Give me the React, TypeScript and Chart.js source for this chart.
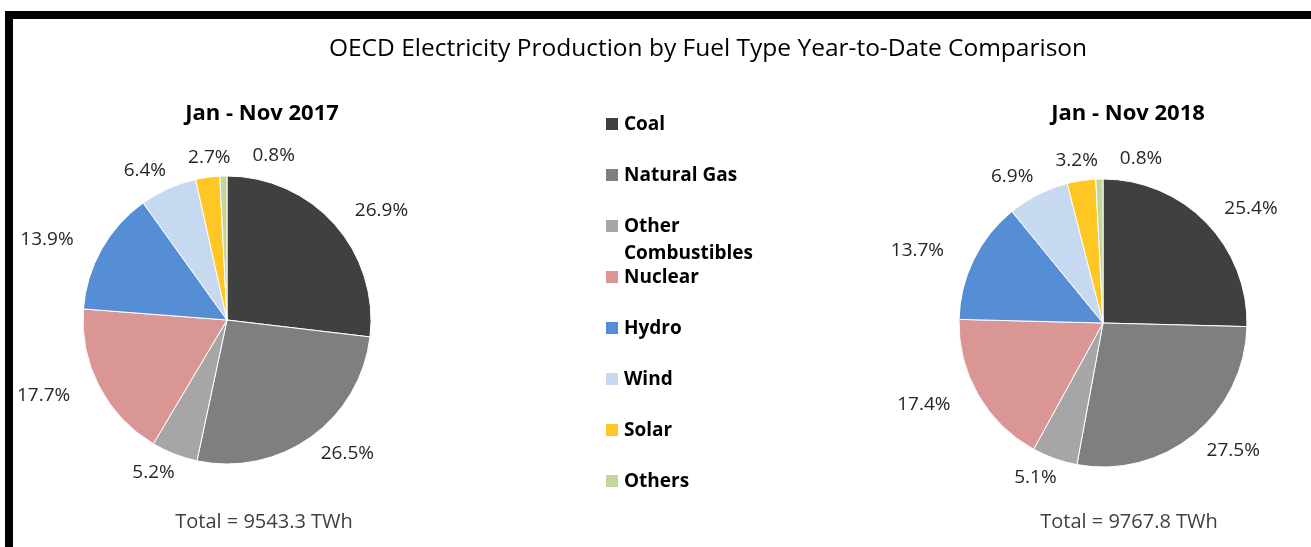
import React, { useEffect, useRef } from "react";
import { Chart, registerables } from "chart.js";

Chart.register(...registerables);

const categories = [
  "Coal",
  "Natural Gas",
  "Other Combustibles",
  "Nuclear",
  "Hydro",
  "Wind",
  "Solar",
  "Others",
];
const values2017 = [26.9, 26.5, 5.2, 17.7, 13.9, 6.4, 2.7, 0.8];
const values2018 = [25.4, 27.5, 5.1, 17.4, 13.7, 6.9, 3.2, 0.8];
const periodTitles = ["Jan - Nov 2017", "Jan - Nov 2018"];
const totals = ["Total = 9543.3 TWh", "Total = 9767.8 TWh"];
const mainTitle = "OECD Electricity Production by Fuel Type Year-to-Date Comparison";

const colors = [
  "#404040",
  "#7f7f7f",
  "#a6a6a6",
  "#d99694",
  "#558ed5",
  "#c6d9f1",
  "#ffc724",
  "#c3d69b",
];

const FONT = "'Open Sans', 'Noto Sans', sans-serif";

const outsideLabels = {
  id: "outsideLabels",
  afterDatasetsDraw(chart: any) {
    const ctx = chart.ctx;
    const meta = chart.getDatasetMeta(0);
    const data = chart.data.datasets[0].data as number[];
    ctx.save();
    ctx.font = `19px ${FONT}`;
    ctx.fillStyle = "#262626";
    ctx.textAlign = "center";
    ctx.textBaseline = "middle";
    const boxes: { cx: number; cy: number; w: number; h: number; t: string }[] = [];
    meta.data.forEach((arc: any, i: number) => {
      const p = arc.getProps(["x", "y", "startAngle", "endAngle", "outerRadius"], true);
      const mid = (p.startAngle + p.endAngle) / 2;
      const dx = Math.cos(mid);
      const dy = Math.sin(mid);
      const t = data[i].toFixed(1) + "%";
      const w = ctx.measureText(t).width;
      const h = 16;
      const ax = p.x + dx * (p.outerRadius + 36);
      const ay = p.y + dy * (p.outerRadius + 12);
      let cx = ax + dx * w / 2;
      const cy = ay + dy * h / 2;
      for (const b of boxes) {
        const overlapX = Math.abs(cx - b.cx) < (w + b.w) / 2 + 20;
        const overlapY = Math.abs(cy - b.cy) < (h + b.h) / 2;
        if (overlapX && overlapY) {
          if (cx >= b.cx) cx = b.cx + b.w / 2 + 22 + w / 2;
          else cx = b.cx - b.w / 2 - 22 - w / 2;
        }
      }
      boxes.push({ cx, cy, w, h, t });
    });
    boxes.forEach((b) => ctx.fillText(b.t, b.cx, b.cy));
    ctx.restore();
  },
};

function PieChart(props: {
  values: number[];
  left: number;
  padding: { left: number; right: number; top: number; bottom: number };
}) {
  const ref = useRef<HTMLCanvasElement | null>(null);
  useEffect(() => {
    if (!ref.current) return;
    const chart = new Chart(ref.current, {
      type: "pie",
      data: {
        labels: categories,
        datasets: [
          {
            data: props.values,
            backgroundColor: colors,
            borderColor: "#ffffff",
            borderWidth: 1,
          },
        ],
      },
      options: {
        responsive: false,
        animation: false,
        layout: { padding: props.padding },
        plugins: {
          legend: { display: false },
          tooltip: { enabled: false },
          title: { display: false },
        },
      },
      plugins: [outsideLabels],
    });
    return () => chart.destroy();
  }, []);
  return (
    <canvas
      ref={ref}
      width={655}
      height={547}
      style={{ position: "absolute", left: props.left, top: 0, width: 655, height: 547 }}
    />
  );
}

export default function App() {
  const textBase: React.CSSProperties = {
    position: "absolute",
    fontFamily: FONT,
    whiteSpace: "nowrap",
    transform: "translate(-50%, -50%)",
  };
  return (
    <div
      style={{
        position: "fixed",
        left: 0,
        top: 0,
        width: 1311,
        height: 547,
        background: "#ffffff",
        overflow: "hidden",
      }}
    >
      <div style={{ position: "absolute", left: 5, top: 11, width: 1306, height: 8, background: "#000" }} />
      <div style={{ position: "absolute", left: 5, top: 11, width: 8, height: 536, background: "#000" }} />
      <PieChart
        values={values2017}
        left={0}
        padding={{ left: 82.5, right: 283.5, top: 175.5, bottom: 82.5 }}
      />
      <PieChart
        values={values2018}
        left={656}
        padding={{ left: 302.5, right: 63.5, top: 178.5, bottom: 79.5 }}
      />
      <div style={{ ...textBase, left: 708, top: 46, fontSize: 24.5, color: "#000" }}>{mainTitle}</div>
      <div style={{ ...textBase, left: 262, top: 111, fontSize: 22, fontWeight: 700, color: "#000" }}>
        {periodTitles[0]}
      </div>
      <div style={{ ...textBase, left: 1128, top: 111, fontSize: 22, fontWeight: 700, color: "#000" }}>
        {periodTitles[1]}
      </div>
      <div style={{ ...textBase, left: 264, top: 520, fontSize: 20, color: "#404040" }}>{totals[0]}</div>
      <div style={{ ...textBase, left: 1129, top: 520, fontSize: 20, color: "#404040" }}>{totals[1]}</div>
      <div style={{ position: "absolute", left: 606, top: 110, fontFamily: FONT }}>
        {categories.map((c, i) => (
          <div key={c} style={{ position: "relative", height: 51 }}>
            <div
              style={{
                position: "absolute",
                left: 0,
                top: 8,
                width: 12,
                height: 12,
                background: colors[i],
              }}
            />
            <div
              style={{
                position: "absolute",
                left: 18,
                top: 0,
                width: 150,
                fontSize: 19,
                fontWeight: 700,
                lineHeight: "27px",
                color: "#000",
                whiteSpace: "normal",
              }}
            >
              {c}
            </div>
          </div>
        ))}
      </div>
    </div>
  );
}
